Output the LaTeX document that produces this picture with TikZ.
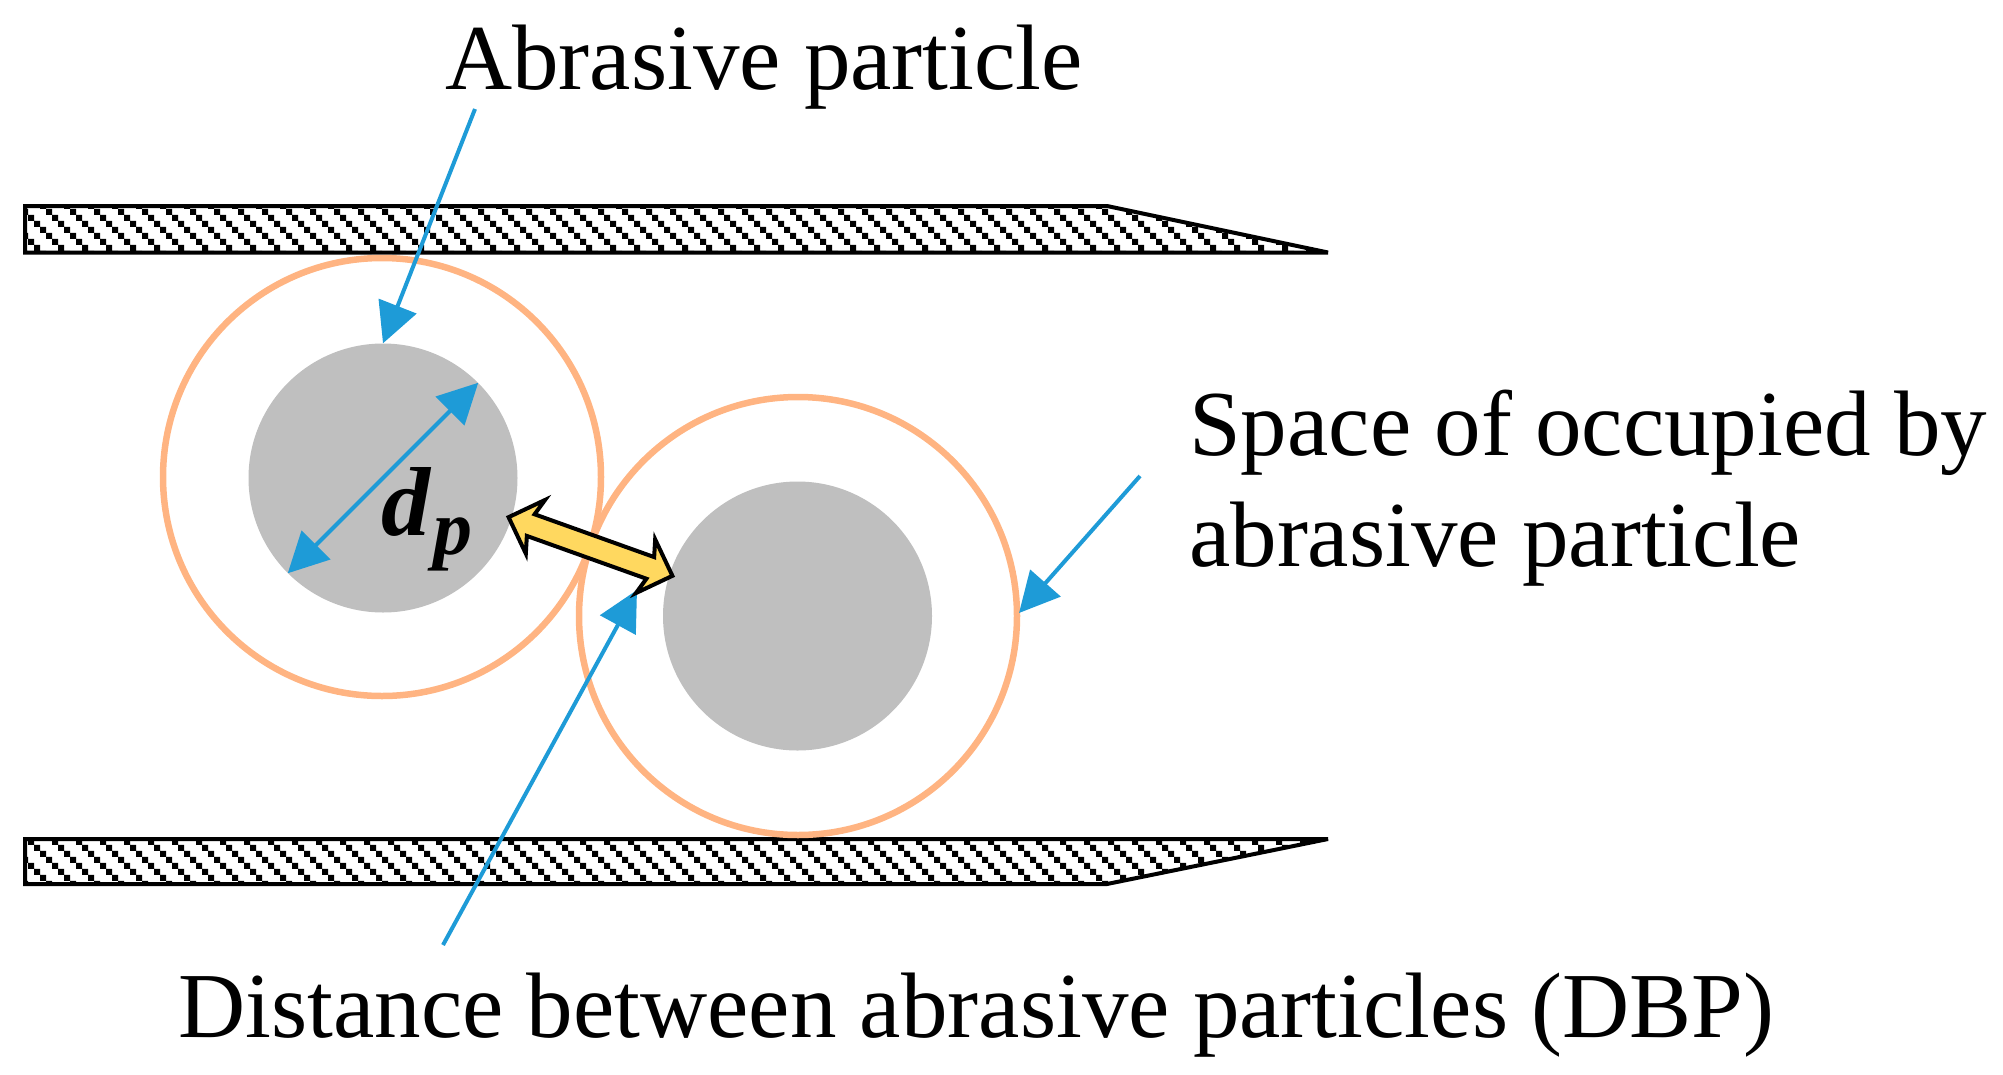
\documentclass[tikz,border=0pt]{standalone}
\usepackage{amsmath}
\usepackage{xcolor}
\usepackage{fontspec}
\setmainfont{Liberation Serif}
\usetikzlibrary{shapes, shapes.arrows, arrows.meta, patterns}

\definecolor{skyline}{HTML}{1E9BD7}
\definecolor{peach}{HTML}{FFB482}
\definecolor{grain}{HTML}{BFBFBF}
\definecolor{gapyellow}{HTML}{FFD85F}

\pgfdeclarepatternformonly{bardots}{\pgfqpoint{-2pt}{1pt}}{\pgfqpoint{22pt}{25pt}}{\pgfqpoint{24pt}{24pt}}{
    \pgfpathrectangle{\pgfqpoint{-2pt}{19pt}}{\pgfqpoint{6pt}{6pt}}
    \pgfpathrectangle{\pgfqpoint{4pt}{13pt}}{\pgfqpoint{6pt}{6pt}}
    \pgfpathrectangle{\pgfqpoint{10pt}{7pt}}{\pgfqpoint{6pt}{6pt}}
    \pgfpathrectangle{\pgfqpoint{16pt}{1pt}}{\pgfqpoint{6pt}{6pt}}
    \pgfusepath{fill}
}

\tikzset{
    bar/.style={draw=black, line width=4pt, pattern=bardots, pattern color=black, line join=miter, miter limit=8},
    space/.style={circle, draw=peach, line width=6.5pt, minimum size=438pt, inner sep=0pt},
    grainc/.style={circle, fill=grain, minimum size=269pt, inner sep=0pt},
    pointer/.style={draw=skyline, line width=4pt, -{Triangle[length=40pt,width=40pt]}},
    both/.style={draw=skyline, line width=4pt, {Triangle[length=40pt,width=40pt]}-{Triangle[length=40pt,width=40pt]}},
    gap/.style={double arrow, draw=black, fill=gapyellow, line width=4pt, inner sep=9.5pt,
        minimum height=174pt, minimum width=56pt, double arrow head extend=17pt,
        double arrow head indent=5pt, double arrow tip angle=90},
    caption/.style={anchor=base west, inner sep=0pt, font=\fontsize{93}{110}\selectfont},
    symbol/.style={anchor=base west, inner sep=0pt, font=\fontsize{98}{110}\selectfont\bfseries\itshape}
}

\begin{document}
\begin{tikzpicture}[x=1pt, y=-1pt]
    \useasboundingbox (0, 0) rectangle (2003, 1074);

    \draw[bar] (25, 206) -- (1107, 206) -- (1328, 252.5) -- (25, 252.5) -- cycle;
    \draw[bar] (25, 839) -- (1328, 839) -- (1107, 884) -- (25, 884) -- cycle;

    \node[grainc] (grainA) at (383, 478) {};
    \node[grainc] (grainB) at (797.5, 616) {};
    \node[space] (spaceA) at (382, 477) {};
    \node[space] (spaceB) at (798, 616) {};

    \node[caption] (abrasive) at (445, 89) {Abrasive particle};
    \node[caption] (occupied) at (1189, 455) {Space of occupied by};
    \node[caption] (occupiedb) at (1189, 566) {abrasive particle};
    \node[caption] (dbp) at (178, 1037) {Distance between abrasive particles (DBP)};
    \node[symbol] (dp) at (381, 535) {d\hspace{3pt}\raisebox{-19pt}{\fontsize{78}{80}\selectfont p}};

    \coordinate (fromtop) at (475, 109);
    \coordinate (fromright) at (1140, 476);
    \coordinate (frombottom) at (443, 945);
    \coordinate (gaptip) at (637, 590);
    \coordinate (spacetip) at (1019, 613);

    \draw[pointer] (fromtop) to (grainA.north);
    \draw[both] (grainA.225) to (grainA.45);
    \draw[pointer] (fromright) to (spacetip);
    \draw[pointer] (frombottom) to (gaptip);

    \node[gap, rotate=-19.7] (gaparrow) at (590.5, 546.5) {};
\end{tikzpicture}
\end{document}
